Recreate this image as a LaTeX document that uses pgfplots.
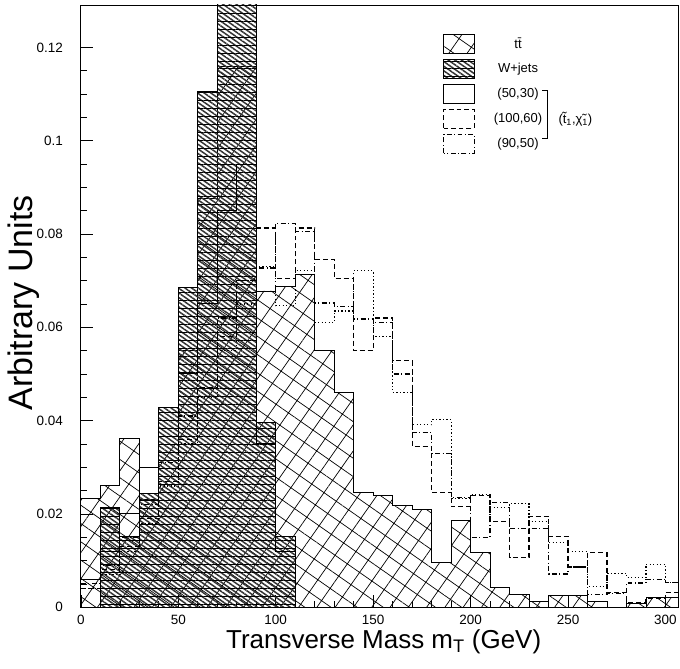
\documentclass[border=0pt]{standalone}
\usepackage{fontspec}
\setmainfont{Liberation Sans}
\usepackage{pgfplots}
\usepackage{pgfplotstable}
\pgfplotsset{compat=1.18}
\usetikzlibrary{patterns.meta}

% bin left edge, ttbar, W+jets, (100,60), (90,50), dotted
\pgfplotstableread{
x    tt      wj      sa      sb      sc
0    0.0233  0       0.004   0.005   0.004
10   0.0261  0.0214  0.008   0.009   0.007
20   0.0361  0.0152  0.013   0.015   0.012
30   0.0230  0.0244  0.019   0.022   0.018
40   0.0350  0.0428  0.027   0.031   0.026
50   0.0550  0.0686  0.036   0.041   0.035
60   0.0876  0.1106  0.047   0.052   0.045
70   0.1160  0.1400  0.058   0.062   0.055
80   0.1160  0.1400  0.070   0.070   0.065
90   0.0678  0.0396  0.0813  0.0727  0.0730
100  0.0687  0.0152  0.0705  0.0823  0.0646
110  0.0714  0       0.0813  0.0805  0.0721
120  0.0550  0       0.0746  0.0652  0.0610
130  0.0460  0       0.0704  0.0645  0.0635
140  0.0246  0       0.0550  0.0618  0.0721
150  0.0239  0       0.0620  0.0610  0.0580
160  0.0218  0       0.0528  0.0500  0.0460
170  0.0210  0       0.0345  0.0374  0.0391
180  0.0096  0       0.0246  0.0330  0.0402
190  0.0186  0       0.0216  0.0235  0.0233
200  0.0118  0       0.0240  0.0150  0.0242
210  0.0043  0       0.0184  0.0224  0.0214
220  0.0027  0       0.0107  0.0168  0.0222
230  0.0012  0       0.0195  0.0169  0.0184
240  0.0026  0       0.0152  0.0071  0.0139
250  0.0026  0       0.0086  0.0086  0.0120
260  0.0012  0       0.0117  0.0028  0.0045
270  0.0000  0       0.0032  0.0030  0.0073
280  0.0008  0       0.0010  0.0052  0.0064
290  0.0021  0       0.0019  0.0060  0.0092
300  0.0021  0       0.0032  0.0053  0.0053
310  0.0021  0       0.0032  0.0053  0.0053
}\histdata

\newcommand{\legtext}[1]{\hspace*{16pt}\makebox[50pt][c]{#1}}

\pgfplotsset{
  boxleg/.style={legend image code/.code={\draw[##1] (0pt,-9.5pt) rectangle (31pt,9.5pt);}},
  ttstyle/.style={draw=black, line width=0.8pt, pattern={Hatch[angle=55,distance=15pt,line width=0.7pt]}, pattern color=black},
  wjstyle/.style={draw=black, line width=0.8pt, pattern={Lines[angle=-35,distance=3.8pt,line width=1.5pt]}, pattern color=black!80,
    postaction={pattern={Lines[angle=0,distance=8pt,line width=0.8pt]}, pattern color=black}},
  s50/.style={black, line width=1pt},
  s100/.style={black, line width=1.2pt, dash pattern=on 5pt off 3pt},
  s90/.style={black, line width=1.2pt, dash pattern=on 5pt off 2.5pt on 1pt off 2.5pt},
  sdot/.style={black, line width=1.2pt, dash pattern=on 1.2pt off 2.3pt},
}

\begin{document}
\begin{tikzpicture}
\begin{axis}[
  scale only axis, width=598pt, height=603pt,
  xmin=0, xmax=306.5, ymin=0, ymax=0.1291,
  axis line style={line width=0.8pt},
  xtick={0,50,100,150,200,250,300},
  xticklabels={0,50,100,150,200,250,300},
  ytick={0,0.02,0.04,0.06,0.08,0.1,0.12},
  yticklabels={0,0.02,0.04,0.06,0.08,0.1,0.12},
  scaled y ticks=false,
  minor x tick num=4, minor y tick num=3,
  tick align=inside, xtick pos=bottom, ytick pos=left,
  major tick length=12pt, minor tick length=6pt,
  tick style={black, line width=0.7pt},
  every tick label/.append style={font=\fontsize{13.5}{16}\selectfont},
  yticklabel style={xshift=-14.5pt},
  xticklabel style={yshift=-4.5pt},
  xlabel={Transverse Mass m\textsubscript{T} (GeV)},
  ylabel={Arbitrary Units},
  xlabel style={font=\fontsize{26}{30}\selectfont, at={(axis description cs:0.507,0)}, anchor=north, inner sep=0pt, yshift=-22pt},
  ylabel style={font=\fontsize{34}{40}\selectfont, at={(axis description cs:-0.069,0.505)}, anchor=south, inner sep=0pt},
  legend style={at={(axis cs:185.7,0.1229)}, anchor=north west, draw=none, fill=none, inner sep=0pt,
    row sep=5pt, font=\fontsize{13}{15}\selectfont},
]
\addplot[const plot, ttstyle, forget plot] table[x=x, y=tt] {\histdata} \closedcycle;
\addplot[const plot, wjstyle, forget plot] table[x=x, y=wj] {\histdata} \closedcycle;
\addplot[const plot, s50, forget plot] coordinates {
  (0,0.006) (10,0.012) (20,0.020) (30,0.030) (40,0.040) (50,0.050) (60,0.065)
  (70,0.085) (80,0.095) (90,0.035) (100,0.012) (110,0)
};
\addplot[const plot, s100, forget plot] table[x=x, y=sa] {\histdata};
\addplot[const plot, s90, forget plot] table[x=x, y=sb] {\histdata};
\addplot[const plot, sdot, forget plot] table[x=x, y=sc] {\histdata};

\addlegendimage{boxleg, ttstyle}
\addlegendentry{\legtext{tt̄}}
\addlegendimage{boxleg, wjstyle}
\addlegendentry{\legtext{W+jets}}
\addlegendimage{boxleg, s50}
\addlegendentry{\legtext{(50,30)}}
\addlegendimage{boxleg, s100}
\addlegendentry{\legtext{(100,60)}}
\addlegendimage{boxleg, s90}
\addlegendentry{\legtext{(90,50)}}

\draw[line width=1pt] (axis cs:236.9,0.1107) -- (axis cs:239.5,0.1107) -- (axis cs:239.5,0.1004) -- (axis cs:236.9,0.1004);
\node[font=\fontsize{13}{15}\selectfont] at (axis cs:253.8,0.1047) {(t̃\textsubscript{1},χ̃\textsubscript{1})};
\end{axis}
\path ([shift={(1pt,5pt)}]current axis.north east);
\path ([shift={(-81pt,-61pt)}]current axis.south west);
\end{tikzpicture}
\end{document}
